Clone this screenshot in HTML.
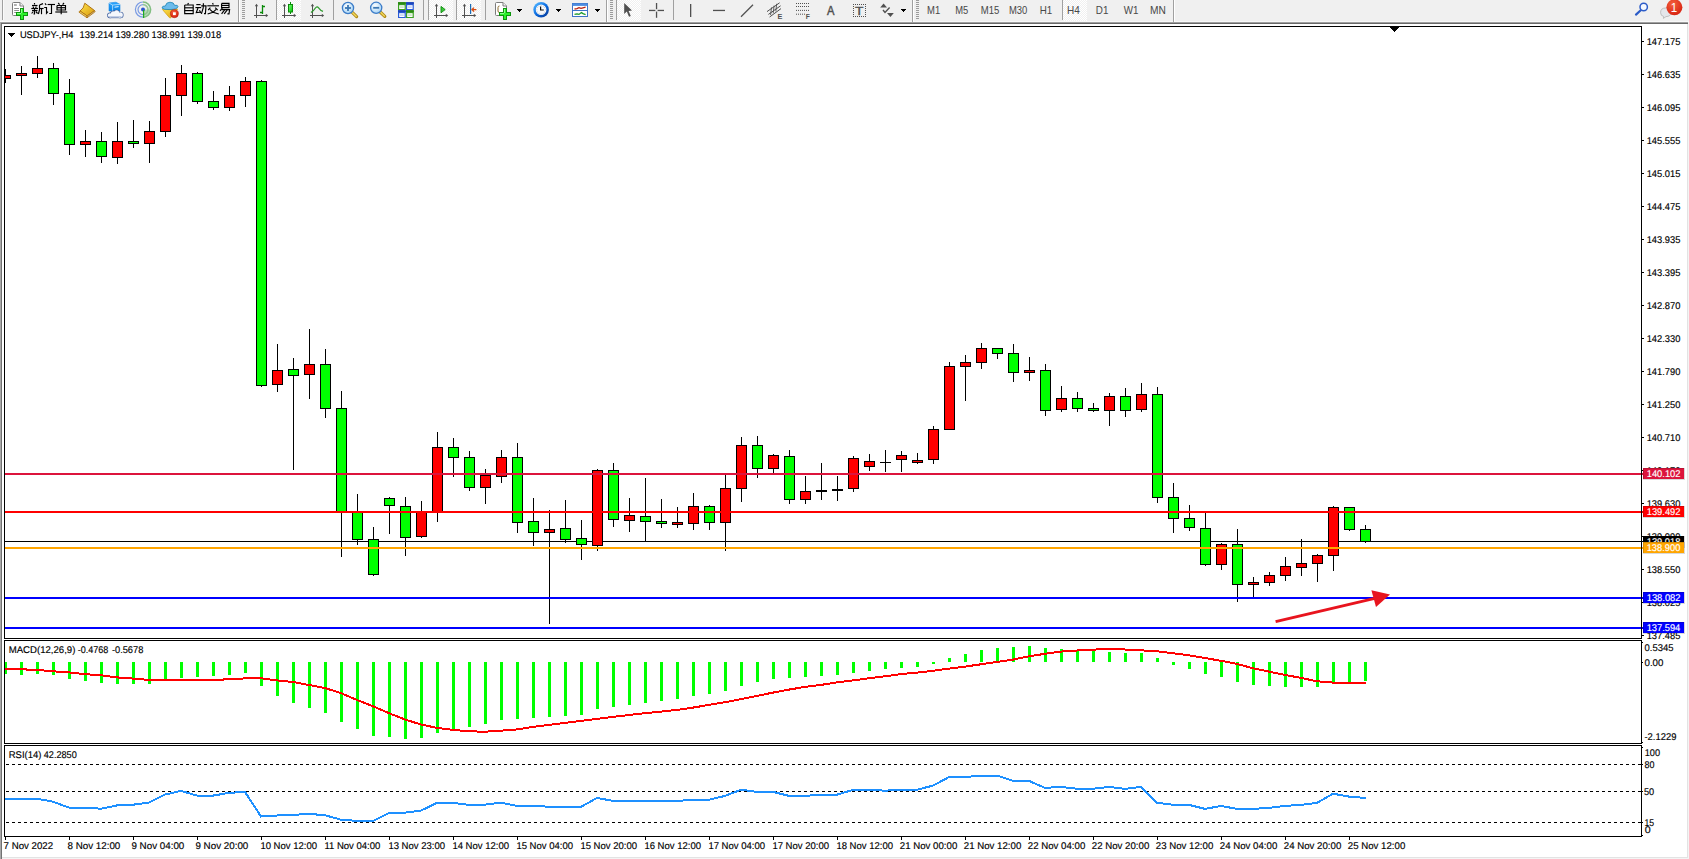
<!DOCTYPE html>
<html><head><meta charset="utf-8"><title>USDJPY H4</title>
<style>
html,body{margin:0;padding:0;background:#fff;}
body{width:1689px;height:859px;overflow:hidden;position:relative;font-family:"Liberation Sans",sans-serif;}
#chart{position:absolute;left:0;top:0;display:block;}
#chart text{font-family:"Liberation Sans",sans-serif;}
</style></head><body>
<svg id="chart" width="1689" height="859" viewBox="0 0 1689 859" shape-rendering="crispEdges">
<rect x="0" y="0" width="1689" height="21" fill="#f0f0f0"/>
<rect x="0" y="21" width="1689" height="1" fill="#f8f8f8"/>
<rect x="0" y="22" width="1689" height="1" fill="#a0a0a0"/>
<rect x="0" y="23" width="1689" height="1" fill="#696969"/>
<rect x="0" y="22" width="1" height="837" fill="#a8a8a8"/>
<rect x="1" y="24" width="1" height="835" fill="#727272"/>
<rect x="1687" y="24" width="1" height="833" fill="#e3e3e3"/>
<rect x="1688" y="22" width="1" height="837" fill="#f4f4f4"/>
<rect x="2" y="857" width="1686" height="1" fill="#e3e3e3"/>
<rect x="2" y="858" width="1687" height="1" fill="#f4f4f4"/>
<rect x="5" y="541" width="1638" height="1" fill="#000"/>
<rect x="5" y="69" width="1" height="14" fill="#000"/>
<rect x="5" y="75" width="6" height="4" fill="#000"/>
<rect x="5" y="76" width="5" height="2" fill="#ff0000"/>
<rect x="21" y="66" width="1" height="29" fill="#000"/>
<rect x="16" y="73" width="11" height="3" fill="#000"/>
<rect x="17" y="74" width="9" height="1" fill="#ff0000"/>
<rect x="37" y="56" width="1" height="22" fill="#000"/>
<rect x="32" y="68" width="11" height="6" fill="#000"/>
<rect x="33" y="69" width="9" height="4" fill="#ff0000"/>
<rect x="53" y="63" width="1" height="42" fill="#000"/>
<rect x="48" y="68" width="11" height="26" fill="#000"/>
<rect x="49" y="69" width="9" height="24" fill="#00ff00"/>
<rect x="69" y="79" width="1" height="76" fill="#000"/>
<rect x="64" y="93" width="11" height="52" fill="#000"/>
<rect x="65" y="94" width="9" height="50" fill="#00ff00"/>
<rect x="85" y="130" width="1" height="27" fill="#000"/>
<rect x="80" y="141" width="11" height="4" fill="#000"/>
<rect x="81" y="142" width="9" height="2" fill="#ff0000"/>
<rect x="101" y="132" width="1" height="31" fill="#000"/>
<rect x="96" y="141" width="11" height="16" fill="#000"/>
<rect x="97" y="142" width="9" height="14" fill="#00ff00"/>
<rect x="117" y="122" width="1" height="42" fill="#000"/>
<rect x="112" y="141" width="11" height="17" fill="#000"/>
<rect x="113" y="142" width="9" height="15" fill="#ff0000"/>
<rect x="133" y="120" width="1" height="28" fill="#000"/>
<rect x="128" y="141" width="11" height="3" fill="#000"/>
<rect x="129" y="142" width="9" height="1" fill="#00ff00"/>
<rect x="149" y="121" width="1" height="42" fill="#000"/>
<rect x="144" y="131" width="11" height="13" fill="#000"/>
<rect x="145" y="132" width="9" height="11" fill="#ff0000"/>
<rect x="165" y="78" width="1" height="59" fill="#000"/>
<rect x="160" y="95" width="11" height="37" fill="#000"/>
<rect x="161" y="96" width="9" height="35" fill="#ff0000"/>
<rect x="181" y="65" width="1" height="51" fill="#000"/>
<rect x="176" y="73" width="11" height="23" fill="#000"/>
<rect x="177" y="74" width="9" height="21" fill="#ff0000"/>
<rect x="197" y="72" width="1" height="32" fill="#000"/>
<rect x="192" y="73" width="11" height="29" fill="#000"/>
<rect x="193" y="74" width="9" height="27" fill="#00ff00"/>
<rect x="213" y="91" width="1" height="19" fill="#000"/>
<rect x="208" y="101" width="11" height="7" fill="#000"/>
<rect x="209" y="102" width="9" height="5" fill="#00ff00"/>
<rect x="229" y="86" width="1" height="25" fill="#000"/>
<rect x="224" y="95" width="11" height="13" fill="#000"/>
<rect x="225" y="96" width="9" height="11" fill="#ff0000"/>
<rect x="245" y="77" width="1" height="30" fill="#000"/>
<rect x="240" y="81" width="11" height="15" fill="#000"/>
<rect x="241" y="82" width="9" height="13" fill="#ff0000"/>
<rect x="261" y="80" width="1" height="307" fill="#000"/>
<rect x="256" y="81" width="11" height="305" fill="#000"/>
<rect x="257" y="82" width="9" height="303" fill="#00ff00"/>
<rect x="277" y="344" width="1" height="48" fill="#000"/>
<rect x="272" y="370" width="11" height="15" fill="#000"/>
<rect x="273" y="371" width="9" height="13" fill="#ff0000"/>
<rect x="293" y="358" width="1" height="112" fill="#000"/>
<rect x="288" y="369" width="11" height="7" fill="#000"/>
<rect x="289" y="370" width="9" height="5" fill="#00ff00"/>
<rect x="309" y="329" width="1" height="70" fill="#000"/>
<rect x="304" y="364" width="11" height="11" fill="#000"/>
<rect x="305" y="365" width="9" height="9" fill="#ff0000"/>
<rect x="325" y="349" width="1" height="69" fill="#000"/>
<rect x="320" y="364" width="11" height="45" fill="#000"/>
<rect x="321" y="365" width="9" height="43" fill="#00ff00"/>
<rect x="341" y="391" width="1" height="166" fill="#000"/>
<rect x="336" y="408" width="11" height="105" fill="#000"/>
<rect x="337" y="409" width="9" height="103" fill="#00ff00"/>
<rect x="357" y="494" width="1" height="51" fill="#000"/>
<rect x="352" y="512" width="11" height="28" fill="#000"/>
<rect x="353" y="513" width="9" height="26" fill="#00ff00"/>
<rect x="373" y="527" width="1" height="49" fill="#000"/>
<rect x="368" y="539" width="11" height="36" fill="#000"/>
<rect x="369" y="540" width="9" height="34" fill="#00ff00"/>
<rect x="389" y="497" width="1" height="37" fill="#000"/>
<rect x="384" y="498" width="11" height="8" fill="#000"/>
<rect x="385" y="499" width="9" height="6" fill="#00ff00"/>
<rect x="405" y="497" width="1" height="59" fill="#000"/>
<rect x="400" y="506" width="11" height="32" fill="#000"/>
<rect x="401" y="507" width="9" height="30" fill="#00ff00"/>
<rect x="421" y="501" width="1" height="37" fill="#000"/>
<rect x="416" y="512" width="11" height="25" fill="#000"/>
<rect x="417" y="513" width="9" height="23" fill="#ff0000"/>
<rect x="437" y="432" width="1" height="90" fill="#000"/>
<rect x="432" y="447" width="11" height="66" fill="#000"/>
<rect x="433" y="448" width="9" height="64" fill="#ff0000"/>
<rect x="453" y="438" width="1" height="39" fill="#000"/>
<rect x="448" y="447" width="11" height="11" fill="#000"/>
<rect x="449" y="448" width="9" height="9" fill="#00ff00"/>
<rect x="469" y="451" width="1" height="40" fill="#000"/>
<rect x="464" y="457" width="11" height="31" fill="#000"/>
<rect x="465" y="458" width="9" height="29" fill="#00ff00"/>
<rect x="485" y="469" width="1" height="35" fill="#000"/>
<rect x="480" y="475" width="11" height="13" fill="#000"/>
<rect x="481" y="476" width="9" height="11" fill="#ff0000"/>
<rect x="501" y="450" width="1" height="33" fill="#000"/>
<rect x="496" y="457" width="11" height="20" fill="#000"/>
<rect x="497" y="458" width="9" height="18" fill="#ff0000"/>
<rect x="517" y="443" width="1" height="90" fill="#000"/>
<rect x="512" y="457" width="11" height="66" fill="#000"/>
<rect x="513" y="458" width="9" height="64" fill="#00ff00"/>
<rect x="533" y="498" width="1" height="48" fill="#000"/>
<rect x="528" y="521" width="11" height="12" fill="#000"/>
<rect x="529" y="522" width="9" height="10" fill="#00ff00"/>
<rect x="549" y="510" width="1" height="114" fill="#000"/>
<rect x="544" y="529" width="11" height="4" fill="#000"/>
<rect x="545" y="530" width="9" height="2" fill="#ff0000"/>
<rect x="565" y="500" width="1" height="43" fill="#000"/>
<rect x="560" y="528" width="11" height="12" fill="#000"/>
<rect x="561" y="529" width="9" height="10" fill="#00ff00"/>
<rect x="581" y="520" width="1" height="40" fill="#000"/>
<rect x="576" y="538" width="11" height="7" fill="#000"/>
<rect x="577" y="539" width="9" height="5" fill="#00ff00"/>
<rect x="597" y="469" width="1" height="82" fill="#000"/>
<rect x="592" y="470" width="11" height="76" fill="#000"/>
<rect x="593" y="471" width="9" height="74" fill="#ff0000"/>
<rect x="613" y="463" width="1" height="64" fill="#000"/>
<rect x="608" y="470" width="11" height="50" fill="#000"/>
<rect x="609" y="471" width="9" height="48" fill="#00ff00"/>
<rect x="629" y="498" width="1" height="34" fill="#000"/>
<rect x="624" y="515" width="11" height="6" fill="#000"/>
<rect x="625" y="516" width="9" height="4" fill="#ff0000"/>
<rect x="645" y="478" width="1" height="64" fill="#000"/>
<rect x="640" y="516" width="11" height="6" fill="#000"/>
<rect x="641" y="517" width="9" height="4" fill="#00ff00"/>
<rect x="661" y="499" width="1" height="29" fill="#000"/>
<rect x="656" y="521" width="11" height="3" fill="#000"/>
<rect x="657" y="522" width="9" height="1" fill="#00ff00"/>
<rect x="677" y="507" width="1" height="21" fill="#000"/>
<rect x="672" y="522" width="11" height="3" fill="#000"/>
<rect x="673" y="523" width="9" height="1" fill="#ff0000"/>
<rect x="693" y="493" width="1" height="37" fill="#000"/>
<rect x="688" y="506" width="11" height="18" fill="#000"/>
<rect x="689" y="507" width="9" height="16" fill="#ff0000"/>
<rect x="709" y="505" width="1" height="25" fill="#000"/>
<rect x="704" y="506" width="11" height="17" fill="#000"/>
<rect x="705" y="507" width="9" height="15" fill="#00ff00"/>
<rect x="725" y="474" width="1" height="77" fill="#000"/>
<rect x="720" y="488" width="11" height="35" fill="#000"/>
<rect x="721" y="489" width="9" height="33" fill="#ff0000"/>
<rect x="741" y="437" width="1" height="65" fill="#000"/>
<rect x="736" y="445" width="11" height="44" fill="#000"/>
<rect x="737" y="446" width="9" height="42" fill="#ff0000"/>
<rect x="757" y="436" width="1" height="42" fill="#000"/>
<rect x="752" y="445" width="11" height="24" fill="#000"/>
<rect x="753" y="446" width="9" height="22" fill="#00ff00"/>
<rect x="773" y="454" width="1" height="19" fill="#000"/>
<rect x="768" y="455" width="11" height="14" fill="#000"/>
<rect x="769" y="456" width="9" height="12" fill="#ff0000"/>
<rect x="789" y="450" width="1" height="54" fill="#000"/>
<rect x="784" y="456" width="11" height="44" fill="#000"/>
<rect x="785" y="457" width="9" height="42" fill="#00ff00"/>
<rect x="805" y="476" width="1" height="28" fill="#000"/>
<rect x="800" y="491" width="11" height="9" fill="#000"/>
<rect x="801" y="492" width="9" height="7" fill="#ff0000"/>
<rect x="821" y="463" width="1" height="37" fill="#000"/>
<rect x="816" y="490" width="11" height="2" fill="#000"/>
<rect x="837" y="476" width="1" height="25" fill="#000"/>
<rect x="832" y="489" width="11" height="2" fill="#000"/>
<rect x="853" y="456" width="1" height="36" fill="#000"/>
<rect x="848" y="458" width="11" height="31" fill="#000"/>
<rect x="849" y="459" width="9" height="29" fill="#ff0000"/>
<rect x="869" y="454" width="1" height="17" fill="#000"/>
<rect x="864" y="461" width="11" height="6" fill="#000"/>
<rect x="865" y="462" width="9" height="4" fill="#ff0000"/>
<rect x="885" y="450" width="1" height="22" fill="#000"/>
<rect x="880" y="462" width="11" height="1" fill="#000"/>
<rect x="901" y="451" width="1" height="21" fill="#000"/>
<rect x="896" y="455" width="11" height="5" fill="#000"/>
<rect x="897" y="456" width="9" height="3" fill="#ff0000"/>
<rect x="917" y="453" width="1" height="11" fill="#000"/>
<rect x="912" y="460" width="11" height="3" fill="#000"/>
<rect x="913" y="461" width="9" height="1" fill="#ff0000"/>
<rect x="933" y="426" width="1" height="38" fill="#000"/>
<rect x="928" y="429" width="11" height="31" fill="#000"/>
<rect x="929" y="430" width="9" height="29" fill="#ff0000"/>
<rect x="949" y="362" width="1" height="68" fill="#000"/>
<rect x="944" y="366" width="11" height="64" fill="#000"/>
<rect x="945" y="367" width="9" height="62" fill="#ff0000"/>
<rect x="965" y="355" width="1" height="46" fill="#000"/>
<rect x="960" y="362" width="11" height="5" fill="#000"/>
<rect x="961" y="363" width="9" height="3" fill="#ff0000"/>
<rect x="981" y="343" width="1" height="26" fill="#000"/>
<rect x="976" y="348" width="11" height="15" fill="#000"/>
<rect x="977" y="349" width="9" height="13" fill="#ff0000"/>
<rect x="997" y="348" width="1" height="11" fill="#000"/>
<rect x="992" y="348" width="11" height="6" fill="#000"/>
<rect x="993" y="349" width="9" height="4" fill="#00ff00"/>
<rect x="1013" y="344" width="1" height="38" fill="#000"/>
<rect x="1008" y="353" width="11" height="20" fill="#000"/>
<rect x="1009" y="354" width="9" height="18" fill="#00ff00"/>
<rect x="1029" y="357" width="1" height="24" fill="#000"/>
<rect x="1024" y="370" width="11" height="3" fill="#000"/>
<rect x="1025" y="371" width="9" height="1" fill="#ff0000"/>
<rect x="1045" y="364" width="1" height="52" fill="#000"/>
<rect x="1040" y="370" width="11" height="41" fill="#000"/>
<rect x="1041" y="371" width="9" height="39" fill="#00ff00"/>
<rect x="1061" y="386" width="1" height="26" fill="#000"/>
<rect x="1056" y="398" width="11" height="12" fill="#000"/>
<rect x="1057" y="399" width="9" height="10" fill="#ff0000"/>
<rect x="1077" y="392" width="1" height="20" fill="#000"/>
<rect x="1072" y="398" width="11" height="11" fill="#000"/>
<rect x="1073" y="399" width="9" height="9" fill="#00ff00"/>
<rect x="1093" y="403" width="1" height="9" fill="#000"/>
<rect x="1088" y="408" width="11" height="3" fill="#000"/>
<rect x="1089" y="409" width="9" height="1" fill="#00ff00"/>
<rect x="1109" y="393" width="1" height="33" fill="#000"/>
<rect x="1104" y="396" width="11" height="15" fill="#000"/>
<rect x="1105" y="397" width="9" height="13" fill="#ff0000"/>
<rect x="1125" y="388" width="1" height="29" fill="#000"/>
<rect x="1120" y="396" width="11" height="15" fill="#000"/>
<rect x="1121" y="397" width="9" height="13" fill="#00ff00"/>
<rect x="1141" y="383" width="1" height="29" fill="#000"/>
<rect x="1136" y="394" width="11" height="16" fill="#000"/>
<rect x="1137" y="395" width="9" height="14" fill="#ff0000"/>
<rect x="1157" y="387" width="1" height="116" fill="#000"/>
<rect x="1152" y="394" width="11" height="104" fill="#000"/>
<rect x="1153" y="395" width="9" height="102" fill="#00ff00"/>
<rect x="1173" y="483" width="1" height="50" fill="#000"/>
<rect x="1168" y="497" width="11" height="22" fill="#000"/>
<rect x="1169" y="498" width="9" height="20" fill="#00ff00"/>
<rect x="1189" y="505" width="1" height="26" fill="#000"/>
<rect x="1184" y="518" width="11" height="10" fill="#000"/>
<rect x="1185" y="519" width="9" height="8" fill="#00ff00"/>
<rect x="1205" y="513" width="1" height="53" fill="#000"/>
<rect x="1200" y="528" width="11" height="37" fill="#000"/>
<rect x="1201" y="529" width="9" height="35" fill="#00ff00"/>
<rect x="1221" y="543" width="1" height="27" fill="#000"/>
<rect x="1216" y="544" width="11" height="21" fill="#000"/>
<rect x="1217" y="545" width="9" height="19" fill="#ff0000"/>
<rect x="1237" y="529" width="1" height="73" fill="#000"/>
<rect x="1232" y="544" width="11" height="41" fill="#000"/>
<rect x="1233" y="545" width="9" height="39" fill="#00ff00"/>
<rect x="1253" y="577" width="1" height="20" fill="#000"/>
<rect x="1248" y="582" width="11" height="3" fill="#000"/>
<rect x="1249" y="583" width="9" height="1" fill="#ff0000"/>
<rect x="1269" y="572" width="1" height="14" fill="#000"/>
<rect x="1264" y="575" width="11" height="8" fill="#000"/>
<rect x="1265" y="576" width="9" height="6" fill="#ff0000"/>
<rect x="1285" y="557" width="1" height="24" fill="#000"/>
<rect x="1280" y="566" width="11" height="10" fill="#000"/>
<rect x="1281" y="567" width="9" height="8" fill="#ff0000"/>
<rect x="1301" y="539" width="1" height="37" fill="#000"/>
<rect x="1296" y="563" width="11" height="5" fill="#000"/>
<rect x="1297" y="564" width="9" height="3" fill="#ff0000"/>
<rect x="1317" y="554" width="1" height="28" fill="#000"/>
<rect x="1312" y="555" width="11" height="9" fill="#000"/>
<rect x="1313" y="556" width="9" height="7" fill="#ff0000"/>
<rect x="1333" y="506" width="1" height="65" fill="#000"/>
<rect x="1328" y="507" width="11" height="49" fill="#000"/>
<rect x="1329" y="508" width="9" height="47" fill="#ff0000"/>
<rect x="1349" y="507" width="1" height="24" fill="#000"/>
<rect x="1344" y="507" width="11" height="23" fill="#000"/>
<rect x="1345" y="508" width="9" height="21" fill="#00ff00"/>
<rect x="1365" y="525" width="1" height="18" fill="#000"/>
<rect x="1360" y="529" width="11" height="13" fill="#000"/>
<rect x="1361" y="530" width="9" height="11" fill="#00ff00"/>
<rect x="5" y="473" width="1638" height="2" fill="#dc143c"/>
<rect x="5" y="511" width="1638" height="2" fill="#ff0000"/>
<rect x="5" y="547" width="1638" height="2" fill="#ffa500"/>
<rect x="5" y="597" width="1638" height="2" fill="#0000ff"/>
<rect x="5" y="627" width="1638" height="2" fill="#0000ff"/>
<g shape-rendering="geometricPrecision"><line x1="1275.6" y1="621.6" x2="1378" y2="597.6" stroke="#e8141e" stroke-width="2.9"/><polygon points="1390,594.4 1371.4,590.2 1376,606.9" fill="#e8141e"/></g>
<rect x="1390" y="27" width="9" height="1" fill="#000"/>
<rect x="1391" y="28" width="7" height="1" fill="#000"/>
<rect x="1392" y="29" width="5" height="1" fill="#000"/>
<rect x="1393" y="30" width="3" height="1" fill="#000"/>
<rect x="1394" y="31" width="1" height="1" fill="#000"/>
<rect x="5" y="662" width="2" height="12" fill="#00ff00"/>
<rect x="20" y="662" width="3" height="13" fill="#00ff00"/>
<rect x="36" y="662" width="3" height="12" fill="#00ff00"/>
<rect x="52" y="662" width="3" height="13" fill="#00ff00"/>
<rect x="68" y="662" width="3" height="17" fill="#00ff00"/>
<rect x="84" y="662" width="3" height="19" fill="#00ff00"/>
<rect x="100" y="662" width="3" height="21" fill="#00ff00"/>
<rect x="116" y="662" width="3" height="22" fill="#00ff00"/>
<rect x="132" y="662" width="3" height="22" fill="#00ff00"/>
<rect x="148" y="662" width="3" height="22" fill="#00ff00"/>
<rect x="164" y="662" width="3" height="17" fill="#00ff00"/>
<rect x="180" y="662" width="3" height="16" fill="#00ff00"/>
<rect x="196" y="662" width="3" height="15" fill="#00ff00"/>
<rect x="212" y="662" width="3" height="14" fill="#00ff00"/>
<rect x="228" y="662" width="3" height="13" fill="#00ff00"/>
<rect x="244" y="662" width="3" height="11" fill="#00ff00"/>
<rect x="260" y="662" width="3" height="24" fill="#00ff00"/>
<rect x="276" y="662" width="3" height="34" fill="#00ff00"/>
<rect x="292" y="662" width="3" height="41" fill="#00ff00"/>
<rect x="308" y="662" width="3" height="46" fill="#00ff00"/>
<rect x="324" y="662" width="3" height="51" fill="#00ff00"/>
<rect x="340" y="662" width="3" height="60" fill="#00ff00"/>
<rect x="356" y="662" width="3" height="67" fill="#00ff00"/>
<rect x="372" y="662" width="3" height="74" fill="#00ff00"/>
<rect x="388" y="662" width="3" height="75" fill="#00ff00"/>
<rect x="404" y="662" width="3" height="77" fill="#00ff00"/>
<rect x="420" y="662" width="3" height="76" fill="#00ff00"/>
<rect x="436" y="662" width="3" height="71" fill="#00ff00"/>
<rect x="452" y="662" width="3" height="68" fill="#00ff00"/>
<rect x="468" y="662" width="3" height="65" fill="#00ff00"/>
<rect x="484" y="662" width="3" height="62" fill="#00ff00"/>
<rect x="500" y="662" width="3" height="58" fill="#00ff00"/>
<rect x="516" y="662" width="3" height="57" fill="#00ff00"/>
<rect x="532" y="662" width="3" height="56" fill="#00ff00"/>
<rect x="548" y="662" width="3" height="55" fill="#00ff00"/>
<rect x="564" y="662" width="3" height="54" fill="#00ff00"/>
<rect x="580" y="662" width="3" height="53" fill="#00ff00"/>
<rect x="596" y="662" width="3" height="47" fill="#00ff00"/>
<rect x="612" y="662" width="3" height="45" fill="#00ff00"/>
<rect x="628" y="662" width="3" height="43" fill="#00ff00"/>
<rect x="644" y="662" width="3" height="41" fill="#00ff00"/>
<rect x="660" y="662" width="3" height="39" fill="#00ff00"/>
<rect x="676" y="662" width="3" height="37" fill="#00ff00"/>
<rect x="692" y="662" width="3" height="34" fill="#00ff00"/>
<rect x="708" y="662" width="3" height="32" fill="#00ff00"/>
<rect x="724" y="662" width="3" height="29" fill="#00ff00"/>
<rect x="740" y="662" width="3" height="24" fill="#00ff00"/>
<rect x="756" y="662" width="3" height="20" fill="#00ff00"/>
<rect x="772" y="662" width="3" height="17" fill="#00ff00"/>
<rect x="788" y="662" width="3" height="16" fill="#00ff00"/>
<rect x="804" y="662" width="3" height="15" fill="#00ff00"/>
<rect x="820" y="662" width="3" height="14" fill="#00ff00"/>
<rect x="836" y="662" width="3" height="13" fill="#00ff00"/>
<rect x="852" y="662" width="3" height="11" fill="#00ff00"/>
<rect x="868" y="662" width="3" height="9" fill="#00ff00"/>
<rect x="884" y="662" width="3" height="7" fill="#00ff00"/>
<rect x="900" y="662" width="3" height="6" fill="#00ff00"/>
<rect x="916" y="662" width="3" height="5" fill="#00ff00"/>
<rect x="932" y="662" width="3" height="2" fill="#00ff00"/>
<rect x="948" y="658" width="3" height="4" fill="#00ff00"/>
<rect x="964" y="654" width="3" height="8" fill="#00ff00"/>
<rect x="980" y="650" width="3" height="12" fill="#00ff00"/>
<rect x="996" y="648" width="3" height="14" fill="#00ff00"/>
<rect x="1012" y="647" width="3" height="15" fill="#00ff00"/>
<rect x="1028" y="646" width="3" height="16" fill="#00ff00"/>
<rect x="1044" y="648" width="3" height="14" fill="#00ff00"/>
<rect x="1060" y="649" width="3" height="13" fill="#00ff00"/>
<rect x="1076" y="650" width="3" height="12" fill="#00ff00"/>
<rect x="1092" y="650" width="3" height="12" fill="#00ff00"/>
<rect x="1108" y="652" width="3" height="10" fill="#00ff00"/>
<rect x="1124" y="653" width="3" height="9" fill="#00ff00"/>
<rect x="1140" y="653" width="3" height="9" fill="#00ff00"/>
<rect x="1156" y="658" width="3" height="4" fill="#00ff00"/>
<rect x="1172" y="662" width="3" height="3" fill="#00ff00"/>
<rect x="1188" y="662" width="3" height="7" fill="#00ff00"/>
<rect x="1204" y="662" width="3" height="12" fill="#00ff00"/>
<rect x="1220" y="662" width="3" height="15" fill="#00ff00"/>
<rect x="1236" y="662" width="3" height="20" fill="#00ff00"/>
<rect x="1252" y="662" width="3" height="23" fill="#00ff00"/>
<rect x="1268" y="662" width="3" height="24" fill="#00ff00"/>
<rect x="1284" y="662" width="3" height="25" fill="#00ff00"/>
<rect x="1300" y="662" width="3" height="25" fill="#00ff00"/>
<rect x="1316" y="662" width="3" height="25" fill="#00ff00"/>
<rect x="1332" y="662" width="3" height="20" fill="#00ff00"/>
<rect x="1348" y="662" width="3" height="20" fill="#00ff00"/>
<rect x="1364" y="662" width="3" height="19" fill="#00ff00"/>
<polyline points="5,668.9 21,669.3 37,669.9 53,671.3 69,672.4 85,674.1 101,675.3 117,677.4 133,678.6 149,679.9 165,679.9 181,679.9 197,679.9 213,679.9 229,679.3 245,678.4 261,678.3 277,680.4 293,682.0 309,685.0 325,688.0 341,693.2 357,700.0 373,706.2 389,713.2 405,719.5 421,724.5 437,727.9 453,729.9 469,731.3 485,731.7 501,730.7 517,729.4 533,726.9 549,724.9 565,722.9 581,720.9 597,718.9 613,716.9 629,715.0 645,713.2 661,711.6 677,709.9 693,707.6 709,704.9 725,702.2 741,699.2 757,695.9 773,692.6 789,689.6 805,686.9 821,684.9 837,682.4 853,680.4 869,678.3 885,676.3 901,674.1 917,672.6 933,670.8 949,668.6 965,666.6 981,664.3 997,661.9 1013,659.6 1029,656.3 1045,653.8 1061,651.6 1077,650.5 1093,649.6 1109,649.1 1125,649.5 1141,650.3 1157,651.3 1173,653.3 1189,655.3 1205,658.0 1221,660.8 1237,663.9 1253,668.3 1269,671.6 1285,674.9 1301,677.9 1317,681.3 1333,682.6 1349,682.9 1365,682.9 1366,682.9" fill="none" stroke="#ff0000" stroke-width="2"/>
<line x1="6" y1="764.5" x2="1641" y2="764.5" stroke="#000" stroke-width="1" stroke-dasharray="3,3"/>
<line x1="6" y1="791.5" x2="1641" y2="791.5" stroke="#000" stroke-width="1" stroke-dasharray="3,3"/>
<line x1="6" y1="822.5" x2="1641" y2="822.5" stroke="#000" stroke-width="1" stroke-dasharray="3,3"/>
<polyline points="5,798.7 21,798.7 37,798.7 53,801.7 69,807.6 85,807.7 101,808.7 117,805.4 133,804.7 149,802.6 165,794.6 181,790.9 197,795.6 213,795.6 229,792.9 245,791.9 261,816.5 277,815.5 293,814.9 309,813.9 325,815.2 341,819.7 357,820.9 373,820.9 389,812.9 405,812.6 421,810.6 437,802.9 453,802.9 469,804.9 485,804.6 501,802.7 517,805.9 533,805.9 549,806.7 565,806.9 581,806.9 597,797.9 613,800.9 629,800.9 645,800.9 661,800.9 677,800.9 693,799.9 709,799.7 725,795.9 741,789.7 757,791.9 773,791.9 789,795.9 805,795.9 821,794.7 837,794.7 853,789.9 869,789.7 885,790.7 901,789.7 917,789.7 933,785.6 949,777.1 965,777.1 981,775.6 997,775.6 1013,780.9 1029,780.9 1045,787.9 1061,786.9 1077,788.7 1093,788.7 1109,786.9 1125,788.9 1141,786.9 1157,802.7 1173,804.7 1189,804.9 1205,808.9 1221,805.9 1237,808.9 1253,808.9 1269,807.9 1285,805.9 1301,804.9 1317,802.9 1333,793.7 1349,796.6 1365,797.9 1366,797.9" fill="none" stroke="#1e90ff" stroke-width="2"/>
<rect x="4" y="26" width="1638" height="1" fill="#000"/>
<rect x="4" y="638" width="1638" height="1" fill="#000"/>
<rect x="4" y="26" width="1" height="613" fill="#000"/>
<rect x="1641" y="26" width="1" height="613" fill="#000"/>
<rect x="4" y="640" width="1638" height="1" fill="#000"/>
<rect x="4" y="743" width="1638" height="1" fill="#000"/>
<rect x="4" y="640" width="1" height="104" fill="#000"/>
<rect x="1641" y="640" width="1" height="104" fill="#000"/>
<rect x="4" y="745" width="1638" height="1" fill="#000"/>
<rect x="4" y="836" width="1638" height="1" fill="#000"/>
<rect x="4" y="745" width="1" height="92" fill="#000"/>
<rect x="1641" y="745" width="1" height="92" fill="#000"/>
<rect x="1642" y="41" width="2" height="1" fill="#000"/>
<rect x="1642" y="74" width="2" height="1" fill="#000"/>
<rect x="1642" y="107" width="2" height="1" fill="#000"/>
<rect x="1642" y="140" width="2" height="1" fill="#000"/>
<rect x="1642" y="173" width="2" height="1" fill="#000"/>
<rect x="1642" y="206" width="2" height="1" fill="#000"/>
<rect x="1642" y="239" width="2" height="1" fill="#000"/>
<rect x="1642" y="272" width="2" height="1" fill="#000"/>
<rect x="1642" y="305" width="2" height="1" fill="#000"/>
<rect x="1642" y="338" width="2" height="1" fill="#000"/>
<rect x="1642" y="371" width="2" height="1" fill="#000"/>
<rect x="1642" y="404" width="2" height="1" fill="#000"/>
<rect x="1642" y="437" width="2" height="1" fill="#000"/>
<rect x="1642" y="470" width="2" height="1" fill="#000"/>
<rect x="1642" y="503" width="2" height="1" fill="#000"/>
<rect x="1642" y="536" width="2" height="1" fill="#000"/>
<rect x="1642" y="569" width="2" height="1" fill="#000"/>
<rect x="1642" y="602" width="2" height="1" fill="#000"/>
<rect x="1642" y="635" width="2" height="1" fill="#000"/>
<rect x="1642" y="642" width="1" height="1" fill="#000"/>
<rect x="1642" y="662" width="1" height="1" fill="#000"/>
<rect x="1642" y="742" width="1" height="1" fill="#000"/>
<rect x="1642" y="747" width="1" height="1" fill="#000"/>
<rect x="1642" y="764" width="1" height="1" fill="#000"/>
<rect x="1642" y="791" width="1" height="1" fill="#000"/>
<rect x="1642" y="822" width="1" height="1" fill="#000"/>
<rect x="1642" y="835" width="1" height="1" fill="#000"/>
<rect x="5" y="837" width="1" height="3" fill="#000"/>
<rect x="69" y="837" width="1" height="3" fill="#000"/>
<rect x="133" y="837" width="1" height="3" fill="#000"/>
<rect x="197" y="837" width="1" height="3" fill="#000"/>
<rect x="261" y="837" width="1" height="3" fill="#000"/>
<rect x="325" y="837" width="1" height="3" fill="#000"/>
<rect x="389" y="837" width="1" height="3" fill="#000"/>
<rect x="453" y="837" width="1" height="3" fill="#000"/>
<rect x="517" y="837" width="1" height="3" fill="#000"/>
<rect x="581" y="837" width="1" height="3" fill="#000"/>
<rect x="645" y="837" width="1" height="3" fill="#000"/>
<rect x="709" y="837" width="1" height="3" fill="#000"/>
<rect x="773" y="837" width="1" height="3" fill="#000"/>
<rect x="837" y="837" width="1" height="3" fill="#000"/>
<rect x="901" y="837" width="1" height="3" fill="#000"/>
<rect x="965" y="837" width="1" height="3" fill="#000"/>
<rect x="1029" y="837" width="1" height="3" fill="#000"/>
<rect x="1093" y="837" width="1" height="3" fill="#000"/>
<rect x="1157" y="837" width="1" height="3" fill="#000"/>
<rect x="1221" y="837" width="1" height="3" fill="#000"/>
<rect x="1285" y="837" width="1" height="3" fill="#000"/>
<rect x="1349" y="837" width="1" height="3" fill="#000"/>
<rect x="8" y="33" width="7" height="1" fill="#000"/>
<rect x="9" y="34" width="5" height="1" fill="#000"/>
<rect x="10" y="35" width="3" height="1" fill="#000"/>
<rect x="11" y="36" width="1" height="1" fill="#000"/>
<g shape-rendering="geometricPrecision" text-rendering="geometricPrecision" stroke="#000" stroke-width="0.15" id="lbl">
<text transform="translate(1646.69,45) scale(0.9562,1)" font-size="9.75" fill="#000">147.175</text>
<text transform="translate(1646.69,78) scale(0.9562,1)" font-size="9.75" fill="#000">146.635</text>
<text transform="translate(1646.69,111) scale(0.9562,1)" font-size="9.75" fill="#000">146.095</text>
<text transform="translate(1646.69,144) scale(0.9562,1)" font-size="9.75" fill="#000">145.555</text>
<text transform="translate(1646.69,177) scale(0.9562,1)" font-size="9.75" fill="#000">145.015</text>
<text transform="translate(1646.69,210) scale(0.9562,1)" font-size="9.75" fill="#000">144.475</text>
<text transform="translate(1646.69,243) scale(0.9562,1)" font-size="9.75" fill="#000">143.935</text>
<text transform="translate(1646.69,276) scale(0.9562,1)" font-size="9.75" fill="#000">143.395</text>
<text transform="translate(1646.69,309) scale(0.9554,1)" font-size="9.75" fill="#000">142.870</text>
<text transform="translate(1646.69,342) scale(0.9554,1)" font-size="9.75" fill="#000">142.330</text>
<text transform="translate(1646.69,375) scale(0.9554,1)" font-size="9.75" fill="#000">141.790</text>
<text transform="translate(1646.69,408) scale(0.9554,1)" font-size="9.75" fill="#000">141.250</text>
<text transform="translate(1646.69,441) scale(0.9554,1)" font-size="9.75" fill="#000">140.710</text>
<text transform="translate(1646.69,474) scale(0.9554,1)" font-size="9.75" fill="#000">140.170</text>
<text transform="translate(1646.69,507) scale(0.9554,1)" font-size="9.75" fill="#000">139.630</text>
<text transform="translate(1646.69,540) scale(0.9554,1)" font-size="9.75" fill="#000">139.090</text>
<text transform="translate(1646.69,573) scale(0.9554,1)" font-size="9.75" fill="#000">138.550</text>
<text transform="translate(1646.69,606) scale(0.9562,1)" font-size="9.75" fill="#000">138.025</text>
<text transform="translate(1646.69,639) scale(0.9562,1)" font-size="9.75" fill="#000">137.485</text>
<rect x="1643" y="468" width="41" height="11" fill="#dc143c" shape-rendering="crispEdges"/>
<text transform="translate(1646.69,477) scale(0.9585,1)" font-size="9.75" fill="#fff" stroke="#fff">140.102</text>
<rect x="1643" y="506" width="41" height="11" fill="#ff0000" shape-rendering="crispEdges"/>
<text transform="translate(1646.69,515) scale(0.9585,1)" font-size="9.75" fill="#fff" stroke="#fff">139.492</text>
<rect x="1643" y="536" width="41" height="11" fill="#000000" shape-rendering="crispEdges"/>
<text transform="translate(1646.69,545) scale(0.9566,1)" font-size="9.75" fill="#fff" stroke="#fff">139.018</text>
<rect x="1643" y="542" width="41" height="11" fill="#ffa500" shape-rendering="crispEdges"/>
<text transform="translate(1646.69,551) scale(0.9554,1)" font-size="9.75" fill="#fff" stroke="#fff">138.900</text>
<rect x="1643" y="592" width="41" height="11" fill="#0000ff" shape-rendering="crispEdges"/>
<text transform="translate(1646.69,601) scale(0.9585,1)" font-size="9.75" fill="#fff" stroke="#fff">138.082</text>
<rect x="1643" y="622" width="41" height="11" fill="#0000ff" shape-rendering="crispEdges"/>
<text transform="translate(1646.69,631) scale(0.9528,1)" font-size="9.75" fill="#fff" stroke="#fff">137.594</text>
<text transform="translate(1644.53,651) scale(0.9679,1)" font-size="9.75" fill="#000">0.5345</text>
<text transform="translate(1644.52,666) scale(0.9937,1)" font-size="9.75" fill="#000">0.00</text>
<text transform="translate(1644.48,740) scale(0.9666,1)" font-size="9.75" fill="#000">-2.1229</text>
<text transform="translate(1644.70,756) scale(0.9443,1)" font-size="9.75" fill="#000">100</text>
<text transform="translate(1644.41,768) scale(0.9163,1)" font-size="9.75" fill="#000">80</text>
<text transform="translate(1643.93,795) scale(0.9430,1)" font-size="9.75" fill="#000">50</text>
<text transform="translate(1644.54,826) scale(0.8873,1)" font-size="9.75" fill="#000">15</text>
<text transform="translate(1644.68,833) scale(1.0942,1)" font-size="9.75" fill="#000">0</text>
<text transform="translate(3.60,849) scale(0.9923,1)" font-size="9.75" fill="#000">7 Nov 2022</text>
<text transform="translate(67.47,849) scale(1.0044,1)" font-size="9.75" fill="#000">8 Nov 12:00</text>
<text transform="translate(131.44,849) scale(1.0050,1)" font-size="9.75" fill="#000">9 Nov 04:00</text>
<text transform="translate(195.44,849) scale(1.0050,1)" font-size="9.75" fill="#000">9 Nov 20:00</text>
<text transform="translate(260.38,849) scale(0.9758,1)" font-size="9.75" fill="#000">10 Nov 12:00</text>
<text transform="translate(324.38,849) scale(0.9758,1)" font-size="9.75" fill="#000">11 Nov 04:00</text>
<text transform="translate(388.38,849) scale(0.9758,1)" font-size="9.75" fill="#000">13 Nov 23:00</text>
<text transform="translate(452.38,849) scale(0.9758,1)" font-size="9.75" fill="#000">14 Nov 12:00</text>
<text transform="translate(516.38,849) scale(0.9758,1)" font-size="9.75" fill="#000">15 Nov 04:00</text>
<text transform="translate(580.38,849) scale(0.9758,1)" font-size="9.75" fill="#000">15 Nov 20:00</text>
<text transform="translate(644.38,849) scale(0.9758,1)" font-size="9.75" fill="#000">16 Nov 12:00</text>
<text transform="translate(708.38,849) scale(0.9758,1)" font-size="9.75" fill="#000">17 Nov 04:00</text>
<text transform="translate(772.38,849) scale(0.9758,1)" font-size="9.75" fill="#000">17 Nov 20:00</text>
<text transform="translate(836.38,849) scale(0.9758,1)" font-size="9.75" fill="#000">18 Nov 12:00</text>
<text transform="translate(899.81,849) scale(0.9907,1)" font-size="9.75" fill="#000">21 Nov 00:00</text>
<text transform="translate(963.81,849) scale(0.9907,1)" font-size="9.75" fill="#000">21 Nov 12:00</text>
<text transform="translate(1027.81,849) scale(0.9907,1)" font-size="9.75" fill="#000">22 Nov 04:00</text>
<text transform="translate(1091.81,849) scale(0.9907,1)" font-size="9.75" fill="#000">22 Nov 20:00</text>
<text transform="translate(1155.81,849) scale(0.9907,1)" font-size="9.75" fill="#000">23 Nov 12:00</text>
<text transform="translate(1219.81,849) scale(0.9907,1)" font-size="9.75" fill="#000">24 Nov 04:00</text>
<text transform="translate(1283.81,849) scale(0.9907,1)" font-size="9.75" fill="#000">24 Nov 20:00</text>
<text transform="translate(1347.81,849) scale(0.9907,1)" font-size="9.75" fill="#000">25 Nov 12:00</text>
<text transform="translate(19.88,38) scale(0.9544,1)" font-size="9.75" fill="#000">USDJPY-,H4</text>
<text transform="translate(79.59,38) scale(0.9557,1)" font-size="9.75" fill="#000">139.214</text>
<text transform="translate(115.49,38) scale(0.9525,1)" font-size="9.75" fill="#000">139.280</text>
<text transform="translate(151.59,38) scale(0.9493,1)" font-size="9.75" fill="#000">138.991</text>
<text transform="translate(187.49,38) scale(0.9537,1)" font-size="9.75" fill="#000">139.018</text>
<text transform="translate(8.71,653) scale(0.9845,1)" font-size="9.75" fill="#000">MACD(12,26,9)</text>
<text transform="translate(77.80,653) scale(0.9251,1)" font-size="9.75" fill="#000">-0.4768</text>
<text transform="translate(111.89,653) scale(0.9500,1)" font-size="9.75" fill="#000">-0.5678</text>
<text transform="translate(8.72,758) scale(0.9755,1)" font-size="9.75" fill="#000">RSI(14)</text>
<text transform="translate(43.79,758) scale(0.9354,1)" font-size="9.75" fill="#000">42.2850</text>
</g>
<g shape-rendering="geometricPrecision">
<defs><linearGradient id="gG" x1="0" y1="0" x2="1" y2="1"><stop offset="0" stop-color="#7dff7d"/><stop offset="1" stop-color="#00c800"/></linearGradient><linearGradient id="gY" x1="0" y1="0" x2="1" y2="1"><stop offset="0" stop-color="#ffe34a"/><stop offset="1" stop-color="#d89a10"/></linearGradient><linearGradient id="gB" x1="0" y1="0" x2="0" y2="1"><stop offset="0" stop-color="#2aa6ff"/><stop offset="1" stop-color="#0a84e6"/></linearGradient><radialGradient id="gL" cx="0.4" cy="0.35" r="0.7"><stop offset="0" stop-color="#ffffff"/><stop offset="1" stop-color="#9fd0f5"/></radialGradient><radialGradient id="gR" cx="0.4" cy="0.3" r="0.8"><stop offset="0" stop-color="#f4603c"/><stop offset="1" stop-color="#d41c0c"/></radialGradient><linearGradient id="gC" x1="0.15" y1="0.1" x2="0.85" y2="0.9"><stop offset="0" stop-color="#4cb0ff"/><stop offset="0.5" stop-color="#0c6ce0"/><stop offset="1" stop-color="#0840a0"/></linearGradient><pattern id="chk" width="2" height="2" patternUnits="userSpaceOnUse"><rect width="2" height="2" fill="#f0f0f0"/><rect width="1" height="1" fill="#fff"/><rect x="1" y="1" width="1" height="1" fill="#fff"/></pattern></defs>
<rect x="2" y="0" width="1" height="20" fill="#a0a0a0"/>
<rect x="3" y="0" width="1" height="20" fill="#fafafa"/>
<path d="M12.5,3.5 Q12.5,2.5 13.5,2.5 L20,2.5 L23.5,6 L23.5,14.5 Q23.5,15.5 22.5,15.5 L13.5,15.5 Q12.5,15.5 12.5,14.5 Z" stroke="#7c7c7c" stroke-width="1" fill="#ffffff"/><path d="M20,2.5 L20,6 L23.5,6" stroke="#7c7c7c" stroke-width="1" fill="#f4f4f4"/>
<rect x="14" y="4.3" width="2.8" height="1.4" fill="#909090"/>
<line x1="14.2" y1="8.5" x2="19" y2="8.5" stroke="#909090" stroke-width="1"/>
<line x1="14.2" y1="10.5" x2="19" y2="10.5" stroke="#909090" stroke-width="1"/>
<line x1="14.2" y1="12.5" x2="19" y2="12.5" stroke="#909090" stroke-width="1"/>
<g shape-rendering="crispEdges"><path d="M20,8 h4 v4 h4 v4 h-4 v4 h-4 v-4 h-4 v-4 h4 z" fill="#0c960c"/><path d="M21,9 h2 v4 h4 v2 h-4 v4 h-2 v-4 h-4 v-2 h4 z" fill="#2cf02c"/><path d="M21,9 h1 v4 h-1 z M17,13 h4 v1 h-4 z" fill="#8cff8c"/></g>
<path d="M84.8,3.2 L94.6,10.6 L87.2,16 L80,11 Q83.8,8.8 84.8,3.2 Z" stroke="#a86a08" stroke-width="0.9" fill="url(#gY)"/>
<path d="M80,11 L87.2,16 L87,17.8 L79,12.2 Q78.8,11.4 80,11 Z" stroke="#a86a08" stroke-width="0.8" fill="#f4d868"/>
<path d="M87.2,16 L94.6,10.6 Q95.4,11.2 94.8,12 L87,17.8 Z" stroke="#a86a08" stroke-width="0.8" fill="#d8c48c"/>
<path d="M109,3 L116,2.2 L120,4.4 L120,11 L109,11 Z" stroke="#1a8ae8" stroke-width="0.6" fill="url(#gB)"/>
<path d="M109,3 L112.6,5 L120,4.4" stroke="#bfe4ff" stroke-width="0.8" fill="none"/>
<line x1="112.6" y1="5" x2="112.6" y2="11" stroke="#bfe4ff" stroke-width="0.8"/>
<line x1="114.5" y1="7.2" x2="118.6" y2="6.6" stroke="#e8f6ff" stroke-width="1"/>
<circle cx="110" cy="15.3" r="2.8499999999999996" fill="#3c5c9c"/><circle cx="113.2" cy="13.6" r="3.05" fill="#3c5c9c"/><circle cx="116.6" cy="12.9" r="3.25" fill="#3c5c9c"/><circle cx="120.3" cy="14.9" r="3.25" fill="#3c5c9c"/><rect x="109.6" y="14" width="11" height="4.15" fill="#3c5c9c"/>
<circle cx="110" cy="15.3" r="2.15" fill="#f4f7fc"/><circle cx="113.2" cy="13.6" r="2.35" fill="#f4f7fc"/><circle cx="116.6" cy="12.9" r="2.5500000000000003" fill="#f4f7fc"/><circle cx="120.3" cy="14.9" r="2.5500000000000003" fill="#f4f7fc"/><rect x="109.8" y="14" width="10.6" height="3.4" fill="#f4f7fc"/>
<path d="M109,16.6 L121.4,16.6" stroke="#c2cee6" stroke-width="1.2" fill="none"/>
<path d="M143,2.0 A7.6,7.6 0 0 0 143,17.2" stroke="#5c86e0" stroke-width="1.2" fill="none" opacity="0.8"/>
<path d="M143,2.0 A7.6,7.6 0 0 1 143,17.2" stroke="#6cb46c" stroke-width="1.6" fill="none" opacity="0.85"/>
<path d="M143,4.6 A5,5 0 0 0 143,14.6" stroke="#5c86e0" stroke-width="1.2" fill="none" opacity="0.8"/>
<path d="M143,4.6 A5,5 0 0 1 143,14.6" stroke="#86c086" stroke-width="1.6" fill="none" opacity="0.85"/>
<path d="M143.5,9.6 L143.5,17.6 A8,8 0 0 0 150.6,9.6 Z" fill="#8cc88c" opacity="0.55"/>
<circle cx="143" cy="9.6" r="2" fill="#2a56d0"/>
<rect x="143" y="10" width="1.2" height="8" fill="#22a822"/>
<path d="M162.4,9.4 L177.6,9 L171,17.6 Q170.2,18.2 169.4,17.6 Z" stroke="#d8a410" stroke-width="0.8" fill="url(#gY)"/>
<path d="M162,8 Q162,5.6 165.4,6 Q166,2.2 170,2.2 Q174,2.2 174.6,5.4 Q178,4.6 178,6.6 Q177.4,9.4 170,9.6 Q163,9.8 162,8 Z" stroke="#1c84b4" stroke-width="0.8" fill="#6cbcec"/>
<circle cx="174.4" cy="13.7" r="4" fill="url(#gR)" stroke="#b81808" stroke-width="0.6"/>
<rect x="173" y="12.3" width="2.8" height="2.8" fill="#fff"/>
</g>
<g shape-rendering="geometricPrecision"><polyline points="34.5,3 34.5,4.5" fill="none" stroke="#000" stroke-width="1.15"/><polyline points="32,5.5 37.5,5.5" fill="none" stroke="#000" stroke-width="1.15"/><polyline points="33,6.5 33.6,8" fill="none" stroke="#000" stroke-width="1.15"/><polyline points="36.3,6.5 35.6,8" fill="none" stroke="#000" stroke-width="1.15"/><polyline points="31.3,8.5 38,8.5" fill="none" stroke="#000" stroke-width="1.15"/><polyline points="32,10.5 37.5,10.5" fill="none" stroke="#000" stroke-width="1.15"/><polyline points="34.5,8.5 34.5,14 33.5,14" fill="none" stroke="#000" stroke-width="1.15"/><polyline points="33.3,11.5 31.6,13.5" fill="none" stroke="#000" stroke-width="1.15"/><polyline points="35.8,11.5 37.6,13.5" fill="none" stroke="#000" stroke-width="1.15"/><polyline points="43,3.6 39.5,5" fill="none" stroke="#000" stroke-width="1.15"/><polyline points="39.5,5 39.5,10 38.4,14" fill="none" stroke="#000" stroke-width="1.15"/><polyline points="39.5,8.5 43.6,8.5" fill="none" stroke="#000" stroke-width="1.15"/><polyline points="41.5,8.5 41.5,14.2" fill="none" stroke="#000" stroke-width="1.15"/><polyline points="45,3.4 46.2,5" fill="none" stroke="#000" stroke-width="1.15"/><polyline points="44.2,7.5 46.5,7.5 46.5,13.2 48,11.6" fill="none" stroke="#000" stroke-width="1.15"/><polyline points="47.6,4.5 55,4.5" fill="none" stroke="#000" stroke-width="1.15"/><polyline points="51.5,4.5 51.5,13.5 49.3,13.5" fill="none" stroke="#000" stroke-width="1.15"/><polyline points="58.2,3 59.6,4.6" fill="none" stroke="#000" stroke-width="1.15"/><polyline points="64,3 62.6,4.6" fill="none" stroke="#000" stroke-width="1.15"/><polyline points="57,5.5 65.5,5.5 65.5,10 57,10 57,5.5" fill="none" stroke="#000" stroke-width="1.15"/><polyline points="57,7.7 65.5,7.7" fill="none" stroke="#000" stroke-width="1.15"/><polyline points="61.2,5.5 61.2,14.2" fill="none" stroke="#000" stroke-width="1.15"/><polyline points="55.3,12 67.2,12" fill="none" stroke="#000" stroke-width="1.15"/><polyline points="188.5,3 187.6,4.6" fill="none" stroke="#000" stroke-width="1.15"/><polyline points="184.7,5 193.2,5 193.2,13.6 184.7,13.6 184.7,5" fill="none" stroke="#000" stroke-width="1.15"/><polyline points="184.7,7.8 193.2,7.8" fill="none" stroke="#000" stroke-width="1.15"/><polyline points="184.7,10.6 193.2,10.6" fill="none" stroke="#000" stroke-width="1.15"/><polyline points="196.3,4.6 200.6,4.6" fill="none" stroke="#000" stroke-width="1.15"/><polyline points="195.4,7.6 201.2,7.6" fill="none" stroke="#000" stroke-width="1.15"/><polyline points="198,8 196.3,12.6 200.4,12.2" fill="none" stroke="#000" stroke-width="1.15"/><polyline points="199.4,10.2 201,13" fill="none" stroke="#000" stroke-width="1.15"/><polyline points="201.2,5.8 206,5.8 205.4,13.6 204,13.6" fill="none" stroke="#000" stroke-width="1.15"/><polyline points="203.4,3.2 203.2,8 201.4,13.8" fill="none" stroke="#000" stroke-width="1.15"/><polyline points="212.6,3 213.2,4.6" fill="none" stroke="#000" stroke-width="1.15"/><polyline points="207.3,5.8 219,5.8" fill="none" stroke="#000" stroke-width="1.15"/><polyline points="210.4,7.6 208.2,10" fill="none" stroke="#000" stroke-width="1.15"/><polyline points="215.2,7.6 217.6,10" fill="none" stroke="#000" stroke-width="1.15"/><polyline points="216.2,9.4 213,12.2 207.6,14" fill="none" stroke="#000" stroke-width="1.15"/><polyline points="209.8,9.4 213,12.2 218.8,14" fill="none" stroke="#000" stroke-width="1.15"/><polyline points="221.6,3.4 229,3.4 229,7.6 221.6,7.6 221.6,3.4" fill="none" stroke="#000" stroke-width="1.15"/><polyline points="221.6,5.4 229,5.4" fill="none" stroke="#000" stroke-width="1.15"/><polyline points="222.4,8 220,10.8" fill="none" stroke="#000" stroke-width="1.15"/><polyline points="221.4,9.6 229.6,9.6 229,13.8 227.4,13.8" fill="none" stroke="#000" stroke-width="1.15"/><polyline points="224.6,9.8 221.6,13.8" fill="none" stroke="#000" stroke-width="1.15"/><polyline points="227.2,9.8 224.2,13.8" fill="none" stroke="#000" stroke-width="1.15"/></g>
<g shape-rendering="crispEdges">
<rect x="238" y="0" width="1" height="22" fill="#a0a0a0"/><rect x="239" y="0" width="1" height="22" fill="#ffffff"/>
<rect x="242" y="0" width="3" height="1" fill="#9c9c9c"/><rect x="242" y="2" width="3" height="1" fill="#9c9c9c"/><rect x="242" y="4" width="3" height="1" fill="#9c9c9c"/><rect x="242" y="6" width="3" height="1" fill="#9c9c9c"/><rect x="242" y="8" width="3" height="1" fill="#9c9c9c"/><rect x="242" y="10" width="3" height="1" fill="#9c9c9c"/><rect x="242" y="12" width="3" height="1" fill="#9c9c9c"/><rect x="242" y="14" width="3" height="1" fill="#9c9c9c"/><rect x="242" y="16" width="3" height="1" fill="#9c9c9c"/><rect x="242" y="18" width="3" height="1" fill="#9c9c9c"/>
</g><g shape-rendering="geometricPrecision">
<rect x="256" y="5" width="1" height="13" fill="#505050"/><rect x="254" y="15" width="12" height="1" fill="#505050"/><polygon points="254.8,6.2 256.5,3.8 258.2,6.2" fill="#505050"/><polygon points="265.8,13.8 268.2,15.5 265.8,17.2" fill="#505050"/>
<path d="M262.5,5 V14 M262.5,6.5 H265 M260,12.5 H262.5" stroke="#0a8a0a" stroke-width="1.3" fill="none"/>
<rect x="276" y="0" width="1" height="20" fill="#a0a0a0"/>
<rect x="277" y="0" width="24" height="21" fill="url(#chk)" shape-rendering="crispEdges"/>
<rect x="284" y="5" width="1" height="13" fill="#505050"/><rect x="282" y="15" width="12" height="1" fill="#505050"/><polygon points="282.8,6.2 284.5,3.8 286.2,6.2" fill="#505050"/><polygon points="293.8,13.8 296.2,15.5 293.8,17.2" fill="#505050"/>
<rect x="290" y="2" width="1" height="12" fill="#0a8a0a"/>
<rect x="288.5" y="4.5" width="4" height="7.5" fill="url(#gG)" stroke="#0a8a0a" stroke-width="1"/>
<rect x="312" y="5" width="1" height="13" fill="#505050"/><rect x="310" y="15" width="12" height="1" fill="#505050"/><polygon points="310.8,6.2 312.5,3.8 314.2,6.2" fill="#505050"/><polygon points="321.8,13.8 324.2,15.5 321.8,17.2" fill="#505050"/>
<path d="M311,12.6 Q314,10.4 315.4,8 Q317,5.8 318.6,7.8 Q320.6,10.6 323,11.4" stroke="#2c9a2c" stroke-width="1.2" fill="none"/>
<rect x="333" y="0" width="1" height="20" fill="#a0a0a0"/>
<line x1="352" y1="12.2" x2="356.6" y2="16.6" stroke="#b08a18" stroke-width="3.2" stroke-linecap="round"/><line x1="352.4" y1="12.4" x2="356.2" y2="16.2" stroke="#f2d85c" stroke-width="1.4" stroke-linecap="round"/><circle cx="348" cy="8" r="5.6" fill="url(#gL)" stroke="#3c7cc8" stroke-width="1.3"/><rect x="345" y="7.1" width="6" height="1.8" fill="#3c78b4"/><rect x="347.1" y="5" width="1.8" height="6" fill="#3c78b4"/>
<line x1="380.2" y1="12.0" x2="384.8" y2="16.4" stroke="#b08a18" stroke-width="3.2" stroke-linecap="round"/><line x1="380.59999999999997" y1="12.2" x2="384.4" y2="16.0" stroke="#f2d85c" stroke-width="1.4" stroke-linecap="round"/><circle cx="376.2" cy="7.8" r="5.6" fill="url(#gL)" stroke="#3c7cc8" stroke-width="1.3"/><rect x="373.2" y="6.8999999999999995" width="6" height="1.8" fill="#3c78b4"/>
<rect x="398" y="2.2" width="7.8" height="7.8" fill="#3aa022"/>
<rect x="398" y="2.2" width="7.8" height="2" fill="#2a8812"/>
<rect x="399.2" y="5.2" width="5.4" height="3.8" fill="#ffffff"/>
<rect x="400" y="6.6000000000000005" width="3.8" height="0.9" fill="#3aa022" opacity="0.5"/>
<rect x="406" y="2.2" width="7.8" height="7.8" fill="#2a5cd8"/>
<rect x="406" y="2.2" width="7.8" height="2" fill="#1c44b8"/>
<rect x="407.2" y="5.2" width="5.4" height="3.8" fill="#ffffff"/>
<rect x="408" y="6.6000000000000005" width="3.8" height="0.9" fill="#2a5cd8" opacity="0.5"/>
<rect x="398" y="10.2" width="7.8" height="7.8" fill="#2a5cd8"/>
<rect x="398" y="10.2" width="7.8" height="2" fill="#1c44b8"/>
<rect x="399.2" y="13.2" width="5.4" height="3.8" fill="#ffffff"/>
<rect x="400" y="14.6" width="3.8" height="0.9" fill="#2a5cd8" opacity="0.5"/>
<rect x="406" y="10.2" width="7.8" height="7.8" fill="#3aa022"/>
<rect x="406" y="10.2" width="7.8" height="2" fill="#2a8812"/>
<rect x="407.2" y="13.2" width="5.4" height="3.8" fill="#ffffff"/>
<rect x="408" y="14.6" width="3.8" height="0.9" fill="#3aa022" opacity="0.5"/>
<rect x="423" y="0" width="1" height="20" fill="#a0a0a0"/>
<rect x="428" y="0" width="1" height="20" fill="#a0a0a0"/>
<rect x="429" y="0" width="24" height="21" fill="url(#chk)" shape-rendering="crispEdges"/>
<rect x="436" y="5" width="1" height="13" fill="#505050"/><rect x="434" y="15" width="12" height="1" fill="#505050"/><polygon points="434.8,6.2 436.5,3.8 438.2,6.2" fill="#505050"/><polygon points="445.8,13.8 448.2,15.5 445.8,17.2" fill="#505050"/>
<polygon points="441,6.4 445.2,9.6 441,12.8" fill="#3cc83c" stroke="#0a8a0a" stroke-width="0.9"/>
<rect x="456" y="0" width="1" height="20" fill="#a0a0a0"/>
<rect x="457" y="0" width="24" height="21" fill="url(#chk)" shape-rendering="crispEdges"/>
<rect x="464" y="5" width="1" height="13" fill="#505050"/><rect x="462" y="15" width="12" height="1" fill="#505050"/><polygon points="462.8,6.2 464.5,3.8 466.2,6.2" fill="#505050"/><polygon points="473.8,13.8 476.2,15.5 473.8,17.2" fill="#505050"/>
<rect x="470" y="4" width="1.2" height="10" fill="#1c6cb4"/>
<path d="M476.4,9.6 H472 M474,7.6 L472,9.6 L474,11.6" stroke="#d84a10" stroke-width="1.3" fill="none"/>
<rect x="485" y="0" width="1" height="20" fill="#a0a0a0"/>
<path d="M495.5,3.5 Q495.5,2.5 496.5,2.5 L503,2.5 L506.5,6 L506.5,14.5 Q506.5,15.5 505.5,15.5 L496.5,15.5 Q495.5,15.5 495.5,14.5 Z" stroke="#7c7c7c" stroke-width="1" fill="#ffffff"/><path d="M503,2.5 L503,6 L506.5,6" stroke="#7c7c7c" stroke-width="1" fill="#f4f4f4"/>
<path d="M499.5,6 Q498,6 498,7.5 L498,11 Q498,12.5 499.5,12.5" stroke="#8c6c2c" stroke-width="1" fill="none"/>
<g shape-rendering="crispEdges"><path d="M503,8 h4 v4 h4 v4 h-4 v4 h-4 v-4 h-4 v-4 h4 z" fill="#0c960c"/><path d="M504,9 h2 v4 h4 v2 h-4 v4 h-2 v-4 h-4 v-2 h4 z" fill="#2cf02c"/><path d="M504,9 h1 v4 h-1 z M500,13 h4 v1 h-4 z" fill="#8cff8c"/></g>
<g shape-rendering="crispEdges"><rect x="517" y="9" width="5" height="1" fill="#000"/><rect x="518" y="10" width="3" height="1" fill="#000"/><rect x="519" y="11" width="1" height="1" fill="#000"/></g>
<circle cx="541.1" cy="9.8" r="7.8" fill="url(#gC)"/><circle cx="541.1" cy="9.8" r="5.3" fill="#f6f8fb"/>
<circle cx="541.10" cy="5.60" r="0.35" fill="#8c8c8c"/>
<circle cx="543.20" cy="6.16" r="0.35" fill="#8c8c8c"/>
<circle cx="544.74" cy="7.70" r="0.35" fill="#8c8c8c"/>
<circle cx="545.30" cy="9.80" r="0.35" fill="#8c8c8c"/>
<circle cx="544.74" cy="11.90" r="0.35" fill="#8c8c8c"/>
<circle cx="543.20" cy="13.44" r="0.35" fill="#8c8c8c"/>
<circle cx="541.10" cy="14.00" r="0.35" fill="#8c8c8c"/>
<circle cx="539.00" cy="13.44" r="0.35" fill="#8c8c8c"/>
<circle cx="537.46" cy="11.90" r="0.35" fill="#8c8c8c"/>
<circle cx="536.90" cy="9.80" r="0.35" fill="#8c8c8c"/>
<circle cx="537.46" cy="7.70" r="0.35" fill="#8c8c8c"/>
<circle cx="539.00" cy="6.16" r="0.35" fill="#8c8c8c"/>
<path d="M540.6,6.6 V10 H543.8" stroke="#101010" stroke-width="1.2" fill="none"/>
<g shape-rendering="crispEdges"><rect x="556" y="9" width="5" height="1" fill="#000"/><rect x="557" y="10" width="3" height="1" fill="#000"/><rect x="558" y="11" width="1" height="1" fill="#000"/></g>
<rect x="572.5" y="3.5" width="15" height="13" fill="#ffffff" stroke="#3c74c8" stroke-width="1"/>
<rect x="572.5" y="3.5" width="15" height="2.4" fill="#4c8ce0"/>
<line x1="572.5" y1="10.5" x2="587.5" y2="10.5" stroke="#3c74c8" stroke-width="1"/>
<path d="M574.5,9 L577,8.6 L579,7.6 L581,8.4 L583,7.8 L585.6,7.2" stroke="#b82010" stroke-width="1.3" fill="none"/>
<path d="M574.5,14.4 L577,13.8 L579,14.4 L581.4,12.6 L583,13.6 L585.6,14.6" stroke="#1c9a2c" stroke-width="1.3" fill="none"/>
<g shape-rendering="crispEdges"><rect x="595" y="9" width="5" height="1" fill="#000"/><rect x="596" y="10" width="3" height="1" fill="#000"/><rect x="597" y="11" width="1" height="1" fill="#000"/></g>
</g><g shape-rendering="crispEdges">
<rect x="606" y="0" width="1" height="22" fill="#a0a0a0"/><rect x="607" y="0" width="1" height="22" fill="#ffffff"/>
<rect x="610" y="0" width="3" height="1" fill="#9c9c9c"/><rect x="610" y="2" width="3" height="1" fill="#9c9c9c"/><rect x="610" y="4" width="3" height="1" fill="#9c9c9c"/><rect x="610" y="6" width="3" height="1" fill="#9c9c9c"/><rect x="610" y="8" width="3" height="1" fill="#9c9c9c"/><rect x="610" y="10" width="3" height="1" fill="#9c9c9c"/><rect x="610" y="12" width="3" height="1" fill="#9c9c9c"/><rect x="610" y="14" width="3" height="1" fill="#9c9c9c"/><rect x="610" y="16" width="3" height="1" fill="#9c9c9c"/><rect x="610" y="18" width="3" height="1" fill="#9c9c9c"/>
<rect x="616" y="0" width="1" height="20" fill="#a0a0a0"/>
</g><g shape-rendering="geometricPrecision">
<rect x="617" y="0" width="24" height="21" fill="url(#chk)" shape-rendering="crispEdges"/>
<polygon points="624.2,3 624.2,14 626.8,11.6 629,16.8 630.8,16 628.6,11 632,10.6" fill="#505050"/>
<rect x="649" y="9.8" width="6.4" height="1.3" fill="#505050"/>
<rect x="657.6" y="9.8" width="6.4" height="1.3" fill="#505050"/>
<rect x="655.9" y="3" width="1.3" height="6.2" fill="#505050"/>
<rect x="655.9" y="11.6" width="1.3" height="6.2" fill="#505050"/>
<rect x="673" y="0" width="1" height="20" fill="#a0a0a0"/>
<rect x="690" y="4" width="1.3" height="13" fill="#505050"/>
<rect x="713" y="9.8" width="12" height="1.3" fill="#505050"/>
<line x1="741" y1="16.8" x2="753" y2="4.8" stroke="#505050" stroke-width="1.3"/>
<line x1="767" y1="11.6" x2="779.6" y2="2.8" stroke="#505050" stroke-width="1"/>
<line x1="768.4" y1="14.4" x2="780.6" y2="5.8" stroke="#505050" stroke-width="1"/>
<line x1="769.6" y1="17" x2="781" y2="8.6" stroke="#505050" stroke-width="1"/>
<line x1="771.5" y1="7.4" x2="770.6" y2="15.0" stroke="#505050" stroke-width="0.9"/>
<line x1="774.1" y1="5.6000000000000005" x2="773.2" y2="13.2" stroke="#505050" stroke-width="0.9"/>
<line x1="776.7" y1="3.8000000000000003" x2="775.8000000000001" y2="11.4" stroke="#505050" stroke-width="0.9"/>
<text transform="translate(777.41,18.8) scale(1.1073,1)" font-size="6.6" font-weight="bold" fill="#505050">E</text>
<line x1="796" y1="3.5" x2="809.4" y2="3.5" stroke="#505050" stroke-width="1" stroke-dasharray="1,1"/>
<line x1="796" y1="6.5" x2="809.4" y2="6.5" stroke="#505050" stroke-width="1" stroke-dasharray="1,1"/>
<line x1="796" y1="10.4" x2="809.4" y2="10.4" stroke="#505050" stroke-width="1" stroke-dasharray="1,1"/>
<line x1="796" y1="14.2" x2="805" y2="14.2" stroke="#505050" stroke-width="1" stroke-dasharray="1,1"/>
<text transform="translate(805.75,18.8) scale(1.0154,1)" font-size="6.6" font-weight="bold" fill="#505050">F</text>
<text transform="translate(826.98,15) scale(0.9147,1)" font-size="12.2" fill="#505050" stroke="#505050" stroke-width="0.45">A</text>
<g shape-rendering="crispEdges"><rect x="853" y="4" width="1" height="1" fill="#505050"/><rect x="853" y="16" width="1" height="1" fill="#505050"/><rect x="855" y="4" width="1" height="1" fill="#505050"/><rect x="855" y="16" width="1" height="1" fill="#505050"/><rect x="857" y="4" width="1" height="1" fill="#505050"/><rect x="857" y="16" width="1" height="1" fill="#505050"/><rect x="859" y="4" width="1" height="1" fill="#505050"/><rect x="859" y="16" width="1" height="1" fill="#505050"/><rect x="861" y="4" width="1" height="1" fill="#505050"/><rect x="861" y="16" width="1" height="1" fill="#505050"/><rect x="863" y="4" width="1" height="1" fill="#505050"/><rect x="863" y="16" width="1" height="1" fill="#505050"/><rect x="865" y="4" width="1" height="1" fill="#505050"/><rect x="865" y="16" width="1" height="1" fill="#505050"/><rect x="853" y="4" width="1" height="1" fill="#505050"/><rect x="865" y="4" width="1" height="1" fill="#505050"/><rect x="853" y="6" width="1" height="1" fill="#505050"/><rect x="865" y="6" width="1" height="1" fill="#505050"/><rect x="853" y="8" width="1" height="1" fill="#505050"/><rect x="865" y="8" width="1" height="1" fill="#505050"/><rect x="853" y="10" width="1" height="1" fill="#505050"/><rect x="865" y="10" width="1" height="1" fill="#505050"/><rect x="853" y="12" width="1" height="1" fill="#505050"/><rect x="865" y="12" width="1" height="1" fill="#505050"/><rect x="853" y="14" width="1" height="1" fill="#505050"/><rect x="865" y="14" width="1" height="1" fill="#505050"/><rect x="853" y="16" width="1" height="1" fill="#505050"/><rect x="865" y="16" width="1" height="1" fill="#505050"/></g>
<text transform="translate(854.89,14.6) scale(1.2317,1)" font-size="11.2" fill="#505050" stroke="#505050" stroke-width="0.35">T</text>
<polygon points="883.6,3.6 887,7.6 880.2,7.6" fill="#505050"/><polygon points="890.4,17 893.8,13 887,13" fill="#505050"/>
<path d="M883,10 L885,12.4 L889.6,7.6" stroke="#505050" stroke-width="1.4" fill="none"/>
<g shape-rendering="crispEdges"><rect x="901" y="9" width="5" height="1" fill="#000"/><rect x="902" y="10" width="3" height="1" fill="#000"/><rect x="903" y="11" width="1" height="1" fill="#000"/></g>
</g><g shape-rendering="crispEdges">
<rect x="912" y="0" width="1" height="22" fill="#a0a0a0"/><rect x="913" y="0" width="1" height="22" fill="#ffffff"/>
<rect x="916" y="0" width="3" height="1" fill="#9c9c9c"/><rect x="916" y="2" width="3" height="1" fill="#9c9c9c"/><rect x="916" y="4" width="3" height="1" fill="#9c9c9c"/><rect x="916" y="6" width="3" height="1" fill="#9c9c9c"/><rect x="916" y="8" width="3" height="1" fill="#9c9c9c"/><rect x="916" y="10" width="3" height="1" fill="#9c9c9c"/><rect x="916" y="12" width="3" height="1" fill="#9c9c9c"/><rect x="916" y="14" width="3" height="1" fill="#9c9c9c"/><rect x="916" y="16" width="3" height="1" fill="#9c9c9c"/><rect x="916" y="18" width="3" height="1" fill="#9c9c9c"/>
</g><g shape-rendering="geometricPrecision">
<rect x="1062" y="0" width="1" height="20" fill="#a0a0a0"/>
<rect x="1063" y="0" width="24" height="21" fill="url(#chk)" shape-rendering="crispEdges"/>
<text transform="translate(927.12,14.2) scale(0.9272,1)" font-size="10.2" fill="#484848">M1</text>
<text transform="translate(955.13,14.2) scale(0.9222,1)" font-size="10.2" fill="#484848">M5</text>
<text transform="translate(980.82,14.2) scale(0.9366,1)" font-size="10.2" fill="#484848">M15</text>
<text transform="translate(1008.92,14.2) scale(0.9298,1)" font-size="10.2" fill="#484848">M30</text>
<text transform="translate(1039.69,14.2) scale(0.9655,1)" font-size="10.2" fill="#484848">H1</text>
<text transform="translate(1066.98,14.2) scale(0.9829,1)" font-size="10.2" fill="#484848">H4</text>
<text transform="translate(1095.79,14.2) scale(0.9655,1)" font-size="10.2" fill="#484848">D1</text>
<text transform="translate(1123.76,14.2) scale(0.9622,1)" font-size="10.2" fill="#484848">W1</text>
<text transform="translate(1150.06,14.2) scale(1.0004,1)" font-size="10.2" fill="#484848">MN</text>
</g><g shape-rendering="crispEdges">
<rect x="1173" y="0" width="1" height="22" fill="#a0a0a0"/><rect x="1174" y="0" width="1" height="22" fill="#ffffff"/>
</g><g shape-rendering="geometricPrecision">
<line x1="1641" y1="10" x2="1636" y2="14.6" stroke="#2c5cc8" stroke-width="2.2" stroke-linecap="round"/>
<circle cx="1643.7" cy="7" r="3.7" fill="#f4f8ff" stroke="#2c5cc8" stroke-width="1.5"/>
<path d="M1660.6,12.8 Q1660.4,8 1665.6,8 Q1671,8 1671,12.6 Q1671,16.4 1666,16.6 L1663.4,18.4 L1663.6,16.4 Q1660.8,16 1660.6,12.8 Z" stroke="#b4b4b4" stroke-width="0.8" fill="#e4e6ea"/>
<circle cx="1674.4" cy="7.3" r="8" fill="url(#gR)"/>
<text transform="translate(1670.72,12.2) scale(0.9277,1)" font-size="12.5" fill="#fff">1</text>
</g>
</svg>
</body></html>
